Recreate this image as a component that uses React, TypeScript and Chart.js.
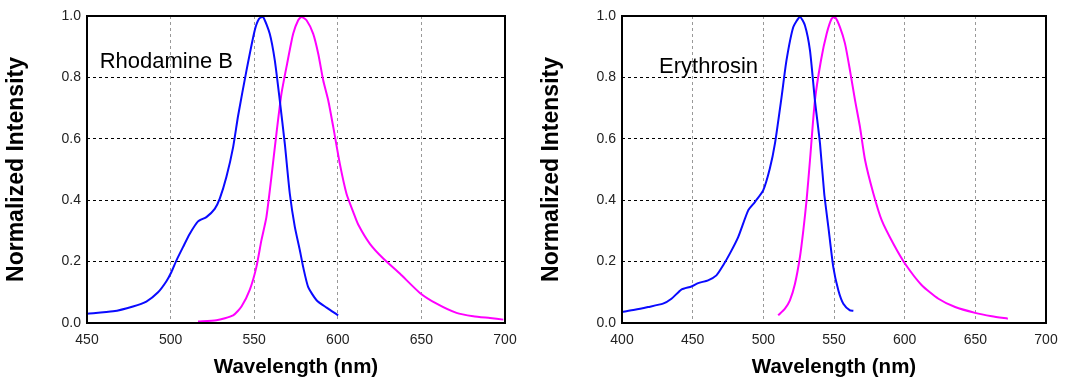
import React, { useEffect, useRef } from "react";
import { Chart, registerables } from "chart.js";

Chart.register(...registerables);

// Rhodamine B
const rhodAbsX = [450, 465.6, 477.5, 485.5, 492.5, 497.5, 500.5, 503.5, 507.5, 511.4, 516.4, 521.4, 526.4, 529.4, 533.4, 537.4, 540.4, 545.4, 550.3, 552.9, 555.3, 559.3, 562.3, 565.3, 568.3, 571.3, 574.3, 577.3, 579.3, 582.3, 587.3, 593.3, 600.2];
const rhodAbsY = [0.030, 0.038, 0.054, 0.07, 0.10, 0.136, 0.166, 0.204, 0.248, 0.29, 0.331, 0.345, 0.372, 0.405, 0.476, 0.573, 0.676, 0.823, 0.953, 0.991, 0.997, 0.942, 0.856, 0.725, 0.584, 0.421, 0.313, 0.237, 0.182, 0.117, 0.074, 0.05, 0.025];
const rhodEmX = [516.4, 527.4, 537.4, 542.4, 547.4, 551.3, 554.3, 557.3, 560.3, 563.3, 566.3, 569.7, 573.3, 576.3, 578.3, 581.3, 585.3, 588.3, 591.3, 594.3, 597.3, 601.2, 605.2, 609.2, 612.2, 619.2, 627.2, 637.1, 649.1, 659.1, 671, 681, 691, 699];
const rhodEmY = [0.005, 0.009, 0.025, 0.054, 0.109, 0.182, 0.269, 0.345, 0.476, 0.617, 0.747, 0.845, 0.942, 0.986, 0.997, 0.986, 0.942, 0.877, 0.79, 0.725, 0.638, 0.519, 0.421, 0.362, 0.321, 0.258, 0.21, 0.161, 0.098, 0.063, 0.033, 0.022, 0.016, 0.011];

// Erythrosin
const eryAbsX = [400, 409, 418.4, 429, 435, 442, 449.1, 453.9, 460.9, 466.8, 471.6, 476.3, 482.2, 489.3, 494, 499.9, 504.6, 508.2, 512.9, 516.4, 521.2, 525.9, 529.4, 533, 536.5, 540.1, 543.1, 546, 549.5, 553.1, 556.6, 561.3, 563.7];
const eryAbsY = [0.036, 0.043, 0.052, 0.063, 0.079, 0.109, 0.119, 0.13, 0.139, 0.155, 0.188, 0.226, 0.28, 0.367, 0.394, 0.432, 0.503, 0.584, 0.736, 0.856, 0.964, 0.997, 0.97, 0.888, 0.725, 0.584, 0.421, 0.313, 0.182, 0.106, 0.063, 0.041, 0.04];
const eryEmX = [510.5, 515.3, 518.8, 522.4, 525.9, 528.3, 530.6, 533, 536.5, 540.8, 544.8, 548.3, 550.7, 554.2, 557.8, 561.3, 564.9, 568.4, 572, 577.9, 583.8, 592, 600.3, 612.1, 623.9, 635.7, 649.9, 661.7, 673];
const eryEmY = [0.025, 0.047, 0.074, 0.128, 0.215, 0.302, 0.4, 0.53, 0.725, 0.856, 0.942, 0.991, 0.997, 0.964, 0.91, 0.823, 0.725, 0.638, 0.53, 0.421, 0.334, 0.258, 0.193, 0.123, 0.079, 0.052, 0.033, 0.022, 0.014];

const yTicks = [0, 0.2, 0.4, 0.6, 0.8, 1.0];
const xTitle = "Wavelength (nm)";
const yTitle = "Normalized Intensity";

const FONT = "'Liberation Sans', Arial, sans-serif";

function toPts(xs: number[], ys: number[]) {
  return xs.map((x, i) => ({ x, y: ys[i] }));
}

type Props = {
  left: number;
  width: number;
  padRight: number;
  xMin: number;
  xMax: number;
  label: string;
  labelX: number;
  labelY: number;
  absX: number[];
  absY: number[];
  emX: number[];
  emY: number[];
};

function SpectrumChart(p: Props) {
  const ref = useRef<HTMLCanvasElement | null>(null);
  useEffect(() => {
    if (!ref.current) return;
    const framePlugin = {
      id: "frame",
      afterDraw(chart: any) {
        const { ctx, chartArea: a, scales } = chart;
        ctx.save();
        ctx.font = `22px ${FONT}`;
        ctx.fillStyle = "#000";
        ctx.textBaseline = "alphabetic";
        ctx.textAlign = "left";
        ctx.fillText(p.label, scales.x.getPixelForValue(p.labelX), scales.y.getPixelForValue(p.labelY));
        ctx.strokeStyle = "#000";
        ctx.lineWidth = 2;
        ctx.strokeRect(a.left, a.top, a.right - a.left, a.bottom - a.top);
        ctx.restore();
      },
    };
    const chart = new Chart(ref.current, {
      type: "line",
      data: {
        datasets: [
          { data: toPts(p.absX, p.absY), borderColor: "#0a0aff", borderWidth: 2, pointRadius: 0, tension: 0.2, fill: false },
          { data: toPts(p.emX, p.emY), borderColor: "#ff00ff", borderWidth: 2, pointRadius: 0, tension: 0.2, fill: false },
        ],
      },
      options: {
        animation: false,
        responsive: false,
        events: [],
        layout: { padding: { left: 0, right: p.padRight, top: 16, bottom: 0 } },
        plugins: { legend: { display: false }, tooltip: { enabled: false } },
        scales: {
          x: {
            type: "linear",
            min: p.xMin,
            max: p.xMax,
            afterFit: (s: any) => { s.height = 58; },
            ticks: { stepSize: 50, color: "#222", font: { family: FONT, size: 14 }, padding: 9, maxRotation: 0, autoSkip: false },
            grid: { color: "#999", drawTicks: false, lineWidth: 1 },
            border: { display: false, dash: [3, 3] },
            title: { display: true, text: xTitle, color: "#000", font: { family: FONT, size: 20.5, weight: "bold" }, padding: { top: 0, bottom: 1 } },
          },
          y: {
            min: 0,
            max: 1,
            afterFit: (s: any) => { s.width = 87; },
            afterBuildTicks: (s: any) => { s.ticks = yTicks.map((v) => ({ value: v })); },
            ticks: { color: "#222", font: { family: FONT, size: 14 }, padding: 6, callback: (v: any) => Number(v).toFixed(1) },
            grid: { color: "#000", drawTicks: false, lineWidth: 1 },
            border: { display: false, dash: [3, 3] },
            title: { display: true, text: yTitle, color: "#000", font: { family: FONT, size: 23, weight: "bold" }, padding: { top: 3, bottom: 0 } },
          },
        },
      },
      plugins: [framePlugin],
    } as any);
    return () => chart.destroy();
  }, []);
  return (
    <canvas
      ref={ref}
      width={p.width}
      height={381}
      style={{ position: "absolute", left: p.left, top: 0, width: p.width, height: 381 }}
    />
  );
}

export default function App() {
  useEffect(() => {
    document.body.style.margin = "0";
  }, []);
  return (
    <div style={{ position: "relative", width: 1071, height: 381, background: "#fff" }}>
      <SpectrumChart left={0} width={535} padRight={30} xMin={450} xMax={700} label="Rhodamine B" labelX={457.6} labelY={0.83}
        absX={rhodAbsX} absY={rhodAbsY} emX={rhodEmX} emY={rhodEmY} />
      <SpectrumChart left={535} width={536} padRight={25} xMin={400} xMax={700} label="Erythrosin" labelX={426.2} labelY={0.814}
        absX={eryAbsX} absY={eryAbsY} emX={eryEmX} emY={eryEmY} />
    </div>
  );
}
